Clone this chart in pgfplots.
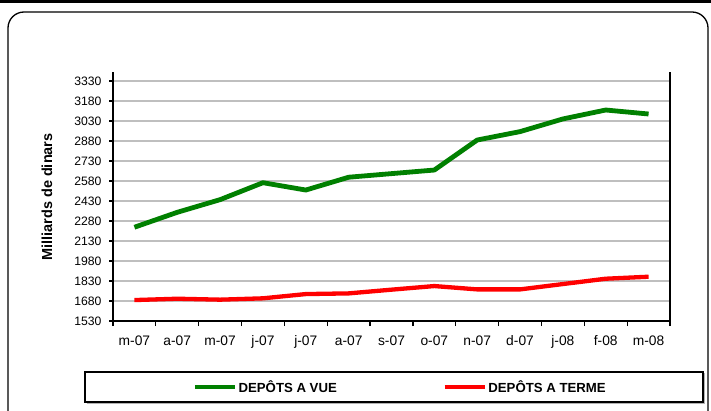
\documentclass[border=0pt]{standalone}
\usepackage{fontspec}
\setmainfont{Liberation Sans}
\usepackage{pgfplots}
\pgfplotsset{compat=1.18}
\definecolor{dgreen}{HTML}{008000}
\definecolor{gridgray}{HTML}{BFBFBF}
\begin{document}
\begin{tikzpicture}[x=1pt,y=1pt]
\useasboundingbox (0,0) rectangle (711,410);
\fill[white] (0,0) rectangle (711,410);
\fill[black] (0,406.5) rectangle (711,410);
\draw[line width=1.3pt, rounded corners=16pt] (8,-20) -- (8,398) -- (708,398) -- (708,-20);
\begin{axis}[
  at={(113pt,89pt)}, anchor=south west,
  scale only axis, width=557pt, height=249pt,
  xmin=-0.5, xmax=12.5, ymin=1530, ymax=3397,
  xtick={0,...,12},
  xticklabels={m-07,a-07,m-07,j-07,j-07,a-07,s-07,o-07,n-07,d-07,j-08,f-08,m-08},
  minor xtick={-0.5,0.5,...,12.5},
  ytick={1530,1680,...,3330},
  ymajorgrids, major grid style={gridgray, line width=1.3pt},
  axis line style={line width=1.3pt},
  axis x line=bottom, axis y line=left,
  x axis line style={-}, y axis line style={-},
  major x tick style={draw=none},
  major y tick style={black, line width=1.2pt},
  minor x tick style={black, line width=1.2pt},
  minor tick length=5pt, major tick length=4pt,
  tick align=outside, xtick pos=bottom, ytick pos=left,
  /pgf/number format/assume math mode=true,
  /pgf/number format/1000 sep={},
  yticklabel style={font=\fontsize{12.2}{15}\selectfont, xshift=-4pt},
  xticklabel style={font=\fontsize{13.8}{16}\selectfont, yshift=-7pt},
  legend style={draw=none, fill=none, at={(rel axis cs:0.516,-0.265)}, anchor=center,
    font=\bfseries\fontsize{13.2}{15}\selectfont, /tikz/every even column/.append style={column sep=104pt}},
  legend columns=2,
  legend image code/.code={\draw[#1, line width=3.5pt] (0pt,0pt) -- (40pt,0pt);},
  clip=false,
]
\addplot[dgreen, line width=4.8pt, line join=round] coordinates {
(0,2233) (1,2345) (2,2440) (3,2567) (4,2512) (5,2608) (6,2635) (7,2662) (8,2887) (9,2950) (10,3045) (11,3112) (12,3082)};
\addplot[red, line width=4.3pt, line join=round] coordinates {
(0,1687) (1,1697) (2,1690) (3,1700) (4,1732) (5,1737) (6,1765) (7,1792) (8,1767) (9,1767) (10,1807) (11,1847) (12,1862)};
\legend{DEPÔTS A VUE, DEPÔTS A TERME}
\draw[line width=1.3pt] (rel axis cs:1,0) -- (rel axis cs:1,1);
\end{axis}
\draw[gray!60, line width=1.5pt] (86.5,6.5) -- (704.5,6.5) -- (704.5,37);
\draw[line width=1.3pt] (85,8) rectangle (703,38);
\node[rotate=90, font=\bfseries\fontsize{14.5}{16}\selectfont] at (47,213) {Milliards de dinars};
\end{tikzpicture}
\end{document}
